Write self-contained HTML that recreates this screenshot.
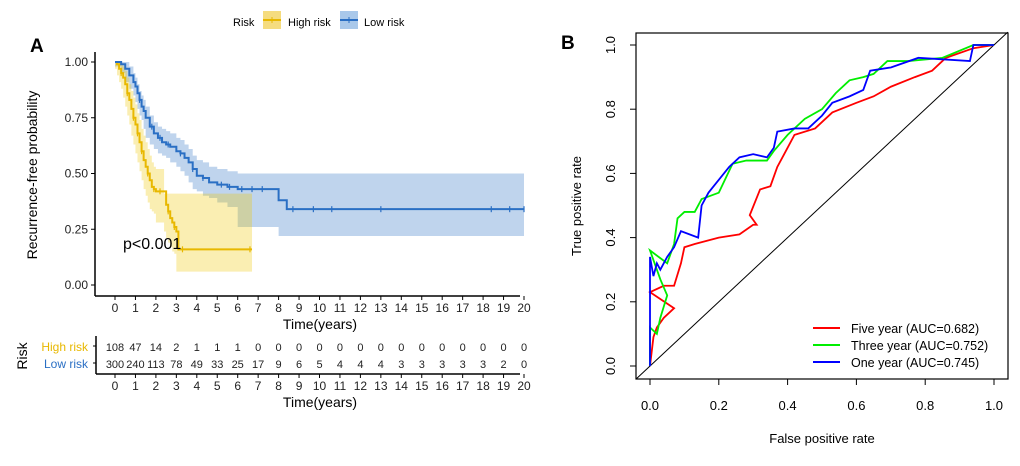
<!DOCTYPE html>
<html><head><meta charset="utf-8"><style>
body{margin:0;background:#fff;}
svg text{font-family:"Liberation Sans",Arial,sans-serif;}
</style></head><body>
<svg width="1020" height="461" xmlns="http://www.w3.org/2000/svg" id="root">
<g id="A"></g>
<g id="B"></g>
</svg>
<script>
// ---- KM data ----
const kmTicks=[0,1,2,3,4,5,6,7,8,9,10,11,12,13,14,15,16,17,18,19,20];
const kmYTicks=[0,0.25,0.5,0.75,1.0];
const kmYLabels=["0.00","0.25","0.50","0.75","1.00"];
const highT=[0,0.1,0.2,0.3,0.4,0.5,0.6,0.7,0.8,0.9,1.0,1.1,1.2,1.3,1.4,1.5,1.6,1.7,1.8,1.9,2.0,2.4,2.5,2.6,2.7,2.8,2.9,3.0,3.1,6.7];
const highS=[1,0.99,0.97,0.95,0.93,0.9,0.86,0.83,0.79,0.75,0.72,0.68,0.64,0.6,0.56,0.53,0.5,0.47,0.44,0.43,0.42,0.42,0.36,0.33,0.3,0.28,0.26,0.24,0.16,0.16];
const highUp=[1,1,1,0.99,0.98,0.96,0.93,0.9,0.87,0.84,0.81,0.77,0.74,0.7,0.67,0.64,0.61,0.58,0.55,0.53,0.52,0.41,0.41,0.41,0.41,0.41,0.41,0.41,0.41,0.41];
const highLo=[1,0.97,0.94,0.91,0.88,0.84,0.8,0.76,0.72,0.67,0.63,0.59,0.55,0.51,0.47,0.43,0.4,0.37,0.34,0.33,0.32,0.28,0.24,0.21,0.19,0.17,0.15,0.14,0.06,0.06];
const lowT=[0,0.3,0.5,0.7,0.9,1.0,1.1,1.2,1.3,1.4,1.5,1.7,1.9,2.1,2.3,2.5,2.7,3.0,3.2,3.4,3.6,3.8,4.0,4.3,4.6,5.0,5.5,6.0,8.0,8.4,20];
const lowS=[1,0.99,0.97,0.94,0.91,0.89,0.86,0.83,0.8,0.78,0.75,0.71,0.68,0.66,0.64,0.63,0.62,0.6,0.59,0.57,0.55,0.52,0.49,0.48,0.46,0.45,0.44,0.43,0.38,0.34,0.34];
const lowUp=[1,1,1,0.98,0.95,0.93,0.9,0.87,0.85,0.83,0.8,0.76,0.73,0.71,0.7,0.69,0.68,0.66,0.65,0.63,0.61,0.58,0.56,0.55,0.53,0.52,0.51,0.5,0.5,0.5,0.5];
const lowLo=[1,0.98,0.95,0.91,0.88,0.85,0.82,0.79,0.76,0.74,0.7,0.66,0.63,0.61,0.59,0.58,0.57,0.55,0.53,0.51,0.49,0.46,0.43,0.42,0.4,0.39,0.37,0.35,0.26,0.22,0.22];
const highCens=[0.3,0.6,0.9,1.1,1.3,1.6,1.9,2.2,2.6,2.9,3.3,6.6];
const lowCens=[1.2,1.8,2.2,2.6,3.2,3.8,4.3,5.2,5.6,6.2,6.7,7.2,8.7,9.7,10.6,13.0,18.4,19.3,20];
const riskHigh=[108,47,14,2,1,1,1,0,0,0,0,0,0,0,0,0,0,0,0,0,0];
const riskLow=[300,240,113,78,49,33,25,17,9,6,5,4,4,4,3,3,3,3,3,2,0];
// ---- ROC data ----
const rocTicks=[0,0.2,0.4,0.6,0.8,1.0];
const blueX=[0,0,0.01,0.02,0.03,0.05,0.07,0.09,0.14,0.15,0.17,0.2,0.23,0.26,0.3,0.34,0.36,0.37,0.42,0.46,0.5,0.53,0.58,0.62,0.64,0.7,0.78,0.93,0.94,1];
const blueY=[0,0.34,0.28,0.32,0.3,0.34,0.37,0.42,0.40,0.50,0.54,0.58,0.62,0.65,0.66,0.65,0.68,0.73,0.74,0.74,0.78,0.82,0.84,0.86,0.92,0.93,0.96,0.95,1.0,1];
const greenX=[0,0,0.02,0.03,0.05,0.03,0,0.05,0.07,0.08,0.1,0.13,0.15,0.2,0.24,0.28,0.34,0.36,0.4,0.45,0.5,0.54,0.58,0.62,0.65,0.69,0.75,0.85,0.94,1];
const greenY=[0,0.12,0.1,0.15,0.22,0.27,0.36,0.32,0.38,0.46,0.48,0.48,0.52,0.54,0.63,0.64,0.64,0.67,0.72,0.77,0.80,0.85,0.89,0.90,0.91,0.95,0.95,0.96,1.0,1];
const redX=[0,0.01,0.02,0.04,0.07,0,0.04,0.07,0.09,0.1,0.13,0.2,0.26,0.3,0.31,0.29,0.32,0.35,0.37,0.39,0.42,0.48,0.53,0.6,0.65,0.7,0.77,0.82,0.86,0.94,1];
const redY=[0,0.09,0.12,0.15,0.18,0.23,0.25,0.25,0.32,0.37,0.38,0.4,0.41,0.44,0.44,0.47,0.55,0.56,0.62,0.66,0.72,0.74,0.79,0.82,0.84,0.87,0.90,0.92,0.96,0.99,1];
const rocLabels=["Five year (AUC=0.682)","Three year (AUC=0.752)","One year (AUC=0.745)"];
const rocColors=["#ff0000","#00ee00","#0000ff"];

const NS="http://www.w3.org/2000/svg";
function mk(p,tag,at){const e=document.createElementNS(NS,tag);for(const k in at)e.setAttribute(k,at[k]);p.appendChild(e);return e;}
function txt(p,x,y,s,at){const e=mk(p,'text',Object.assign({x:x,y:y},at||{}));e.textContent=s;return e;}

// ----- Panel A -----
const A=document.getElementById('A');
const kx=t=>115+20.45*t, ky=s=>285-223*s;
let e=txt(A,30,52,"A",{'font-size':19,'font-weight':'bold'});


e=txt(A,233,26,"Risk",{'font-size':11});


[[263,"#f5dc7f","#e8b800","High risk",288],[340,"#a9c8ea","#2a6fc4","Low risk",364]].forEach(l=>{
 const g=mk(A,'g',{});
 
 
 mk(g,'rect',{x:l[0],y:11,width:18,height:18,fill:l[1]});
 mk(g,'line',{x1:l[0],x2:l[0]+18,y1:20,y2:20,stroke:l[2],'stroke-width':2});
 mk(g,'line',{x1:l[0]+9,x2:l[0]+9,y1:17,y2:23,stroke:l[2],'stroke-width':1});
 txt(g,l[4],26,l[3],{'font-size':11});
});
function stepPath(T,S){let d=`M${kx(T[0])},${ky(S[0])}`;for(let i=1;i<T.length;i++){d+=` H${kx(T[i])} V${ky(S[i])}`;}return d;}
function band(T,U,L){
 let r=`M${kx(T[0])},${ky(U[0])}`;for(let i=1;i<T.length;i++)r+=` H${kx(T[i])} V${ky(U[i])}`;
 for(let i=T.length-1;i>0;i--){r+=` V${ky(L[i])} H${kx(T[i-1])}`;} r+=` V${ky(L[0])} Z`;return r;}
e=mk(A,'path',{d:band(lowT,lowUp,lowLo),fill:"#2a6fc4",'fill-opacity':0.3});


e=mk(A,'path',{d:band(highT,highUp,highLo),fill:"#eec700",'fill-opacity':0.3});


function survAt(T,S,t){let s=S[0];for(let i=0;i<T.length;i++){if(T[i]<=t)s=S[i];}return s;}
[[highT,highS,"#e8b800",highCens,'high-risk-curve'],[lowT,lowS,"#2a6fc4",lowCens,'low-risk-curve']].forEach(c=>{
 const p=mk(A,'path',{d:stepPath(c[0],c[1]),fill:'none',stroke:c[2],'stroke-width':2});
 
 
 c[3].forEach(t=>{const y=ky(survAt(c[0],c[1],t));const m=mk(A,'line',{x1:kx(t),x2:kx(t),y1:y-3,y2:y+3,stroke:c[2],'stroke-width':1.2});
  
  });
});
e=txt(A,123,249,"p<0.001",{'font-size':16});


mk(A,'line',{x1:95,x2:95,y1:52,y2:296,stroke:'#000','stroke-width':1.5});
mk(A,'line',{x1:95,x2:520,y1:296,y2:296,stroke:'#000','stroke-width':1.5});
kmYTicks.forEach((v,i)=>{mk(A,'line',{x1:91,x2:95,y1:ky(v),y2:ky(v),stroke:'#000'});
 const t=txt(A,88,ky(v)+4,kmYLabels[i],{'font-size':12,'text-anchor':'end','fill':'#222'});
 
 });
kmTicks.forEach(v=>{mk(A,'line',{x1:kx(v),x2:kx(v),y1:296,y2:300,stroke:'#000'});
 const t=txt(A,kx(v),312,String(v),{'font-size':12,'text-anchor':'middle','fill':'#222'});
 
 });
e=txt(A,320,329,"Time(years)",{'font-size':14,'text-anchor':'middle'});


e=txt(A,0,0,"Recurrence-free probability",{'font-size':14,'text-anchor':'middle',transform:'translate(37,175) rotate(-90)'});


// risk table
mk(A,'line',{x1:96,x2:96,y1:336,y2:374,stroke:'#000','stroke-width':1.5});
mk(A,'line',{x1:96,x2:520,y1:374,y2:374,stroke:'#000','stroke-width':1.5});
mk(A,'line',{x1:93,x2:96,y1:346,y2:346,stroke:'#000'});
mk(A,'line',{x1:93,x2:96,y1:363,y2:363,stroke:'#000'});
e=txt(A,88,351,"High risk",{'font-size':12,'text-anchor':'end',fill:'#e8b800'});


e=txt(A,88,368,"Low risk",{'font-size':12,'text-anchor':'end',fill:'#2a6fc4'});


e=txt(A,0,0,"Risk",{'font-size':14,'text-anchor':'middle',transform:'translate(27,356) rotate(-90)'});


kmTicks.forEach((v,i)=>{
 const a=txt(A,kx(v),351,String(riskHigh[i]),{'font-size':11,'text-anchor':'middle','fill':'#222'});
 
 
 const b=txt(A,kx(v),368,String(riskLow[i]),{'font-size':11,'text-anchor':'middle','fill':'#222'});
 
 
 mk(A,'line',{x1:kx(v),x2:kx(v),y1:374,y2:378,stroke:'#000'});
 const c=txt(A,kx(v),390,String(v),{'font-size':12,'text-anchor':'middle','fill':'#222'});
 
 
});
e=txt(A,320,407,"Time(years)",{'font-size':14,'text-anchor':'middle'});



// ----- Panel B -----
const B=document.getElementById('B');
const rx=v=>650+344*v, ry=v=>366-321*v;
e=txt(B,561,49,"B",{'font-size':19,'font-weight':'bold'});


e=mk(B,'rect',{x:636,y:33,width:372,height:346,fill:'none',stroke:'#000','stroke-width':1.2});


e=mk(B,'line',{x1:rx(-0.04),y1:ry(-0.04),x2:rx(1.04),y2:ry(1.04),stroke:'#000','stroke-width':1});


rocTicks.forEach(v=>{
 mk(B,'line',{x1:rx(v),x2:rx(v),y1:379,y2:385,stroke:'#000'});
 const a=txt(B,rx(v),410,v.toFixed(1),{'font-size':13,'text-anchor':'middle'});
 
 
 mk(B,'line',{x1:630,x2:636,y1:ry(v),y2:ry(v),stroke:'#000'});
 const b=txt(B,0,0,v.toFixed(1),{'font-size':13,'text-anchor':'middle',transform:`translate(615,${ry(v)}) rotate(-90)`});
 
 
});
e=txt(B,822,443,"False positive rate",{'font-size':13,'text-anchor':'middle'});


e=txt(B,0,0,"True positive rate",{'font-size':13,'text-anchor':'middle',transform:'translate(581,206) rotate(-90)'});


[[redX,redY,0,'roc-five-year'],[greenX,greenY,1,'roc-three-year'],[blueX,blueY,2,'roc-one-year']].forEach(c=>{
 const pts=c[0].map((x,i)=>rx(x)+','+ry(c[1][i])).join(' ');
 const p=mk(B,'polyline',{points:pts,fill:'none',stroke:rocColors[c[2]],'stroke-width':1.8});
 
 
});
rocLabels.forEach((l,i)=>{
 const g=mk(B,'g',{});
 
 
 const y=328+i*17;
 mk(g,'line',{x1:813,x2:840,y1:y,y2:y,stroke:rocColors[i],'stroke-width':2});
 txt(g,851,y+5,l,{'font-size':12.5});
});
</script>
</body></html>
